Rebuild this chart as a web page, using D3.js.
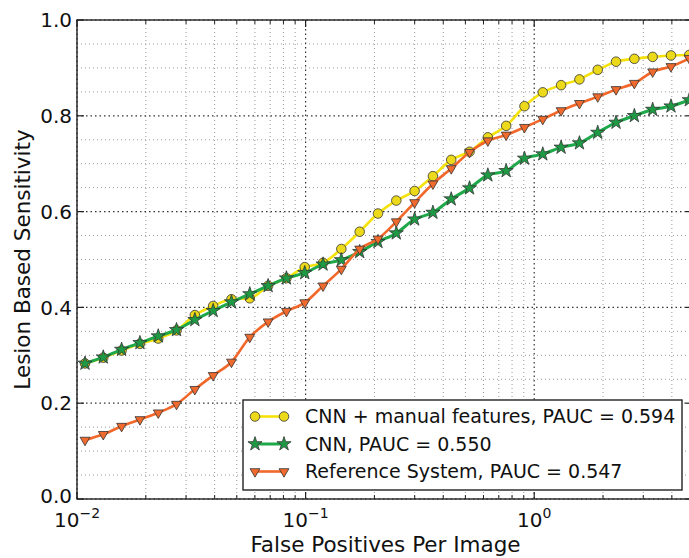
<!DOCTYPE html>
<html>
<head>
<meta charset="utf-8">
<script src="https://cdn.jsdelivr.net/npm/d3@7"></script>
<style>
  html, body { margin: 0; padding: 0; background: #fff; }
  svg { display: block; font-family: "DejaVu Sans", sans-serif; }
</style>
</head>
<body>
<svg id="chart" width="689" height="558"></svg>
<script>
// ---- data ----
const fpi = [0.01084, 0.01303, 0.01567, 0.01885, 0.02267, 0.02725, 0.03277, 0.03941, 0.04739, 0.05699,
             0.06855, 0.08243, 0.09913, 0.1192, 0.1433, 0.1724, 0.2073, 0.2493, 0.2998, 0.3605,
             0.4335, 0.5213, 0.6269, 0.7539, 0.9066, 1.090, 1.311, 1.577, 1.896, 2.280,
             2.742, 3.297, 3.965, 4.768];
const cnnManual = [0.283, 0.295, 0.310, 0.324, 0.335, 0.352, 0.384, 0.403, 0.417, 0.419,
                   0.445, 0.461, 0.484, 0.493, 0.522, 0.558, 0.596, 0.623, 0.643, 0.674,
                   0.708, 0.725, 0.755, 0.779, 0.820, 0.849, 0.864, 0.876, 0.896, 0.913,
                   0.919, 0.923, 0.926, 0.927];
const cnn = [0.283, 0.296, 0.312, 0.326, 0.340, 0.353, 0.374, 0.393, 0.411, 0.428,
             0.445, 0.461, 0.472, 0.490, 0.499, 0.516, 0.537, 0.555, 0.584, 0.598,
             0.626, 0.649, 0.676, 0.685, 0.711, 0.720, 0.734, 0.743, 0.765, 0.786,
             0.800, 0.813, 0.820, 0.833];
const reference = [0.123, 0.135, 0.152, 0.166, 0.180, 0.198, 0.229, 0.258, 0.286, 0.338,
                   0.370, 0.392, 0.410, 0.445, 0.480, 0.522, 0.543, 0.579, 0.619, 0.658,
                   0.690, 0.724, 0.748, 0.760, 0.776, 0.793, 0.811, 0.826, 0.840, 0.855,
                   0.868, 0.892, 0.903, 0.920];
const seriesNames = ["CNN + manual features, PAUC = 0.594", "CNN, PAUC = 0.550", "Reference System, PAUC = 0.547"];
const xMajorTicks = [0.01, 0.1, 1];
const xTickExponents = ["\u22122", "\u22121", "0"];
const yMajorTicks = [0.0, 0.2, 0.4, 0.6, 0.8, 1.0];
const xLabel = "False Positives Per Image";
const yLabel = "Lesion Based Sensitivity";

// ---- layout ----
const L = 77, R = 694, T = 20, B = 499;
const svg = d3.select("#chart");
const x = d3.scaleLog().domain([0.01, 5]).range([L, R]);
const y = d3.scaleLinear().domain([0, 1]).range([B, T]);

// minor ticks
const xMinor = [];
[0.01, 0.1, 1].forEach(d => { for (let m = 2; m <= 9; m++) { const v = d * m; if (v <= 5) xMinor.push(v); } });
const yMinor = d3.range(0, 1.0001, 0.05).filter(v => Math.abs(v * 5 - Math.round(v * 5)) > 1e-6);

// grid
const grid = svg.append("g");
grid.selectAll(".gxm").data(xMinor).enter().append("line")
  .attr("x1", d => x(d)).attr("x2", d => x(d)).attr("y1", T).attr("y2", B)
  .attr("stroke", "#999").attr("stroke-width", 1).attr("stroke-dasharray", "1,3");
grid.selectAll(".gym").data(yMinor).enter().append("line")
  .attr("x1", L).attr("x2", R).attr("y1", d => y(d)).attr("y2", d => y(d))
  .attr("stroke", "#999").attr("stroke-width", 1).attr("stroke-dasharray", "1,3");
grid.selectAll(".gxM").data(xMajorTicks).enter().append("line")
  .attr("x1", d => x(d)).attr("x2", d => x(d)).attr("y1", T).attr("y2", B)
  .attr("stroke", "#333").attr("stroke-width", 1.2).attr("stroke-dasharray", "1.5,3");
grid.selectAll(".gyM").data(yMajorTicks).enter().append("line")
  .attr("x1", L).attr("x2", R).attr("y1", d => y(d)).attr("y2", d => y(d))
  .attr("stroke", "#333").attr("stroke-width", 1.2).attr("stroke-dasharray", "1.5,3");

// series
const series = [
  { name: seriesNames[0], vals: cnnManual, line: "#f5e20a", fill: "#ecd91a", sym: d3.symbolCircle, size: 72, rot: 0, lw: 2.6 },
  { name: seriesNames[1], vals: cnn, line: "#1fa84a", fill: "#1f9a44", sym: d3.symbolStar, size: 62, rot: 0, lw: 3 },
  { name: seriesNames[2], vals: reference, line: "#f2682a", fill: "#ef6a2c", sym: d3.symbolTriangle, size: 42, rot: 180, lw: 2.6 }
];
const lineGen = d3.line().x(d => x(d[0])).y(d => y(d[1])).curve(d3.curveMonotoneX);
series.forEach(s => {
  const pts = fpi.map((f, i) => [f, s.vals[i]]);
  svg.append("path").datum(pts).attr("d", lineGen)
    .attr("fill", "none").attr("stroke", s.line).attr("stroke-width", s.lw).attr("stroke-linejoin", "round");
  svg.append("g").selectAll("path").data(pts).enter().append("path")
    .attr("d", d3.symbol().type(s.sym).size(s.size))
    .attr("transform", d => `translate(${x(d[0])},${y(d[1])}) rotate(${s.rot})`)
    .attr("fill", s.fill).attr("stroke", "#333").attr("stroke-width", 0.8);
});

// axes frame
const frame = svg.append("g");
frame.append("rect").attr("x", L).attr("y", T).attr("width", R - L).attr("height", B - T)
  .attr("fill", "none").attr("stroke", "#222").attr("stroke-width", 1.4);

// ticks (inward on all sides)
const tk = svg.append("g").attr("stroke", "#222");
xMajorTicks.forEach(v => {
  tk.append("line").attr("x1", x(v)).attr("x2", x(v)).attr("y1", B).attr("y2", B - 7).attr("stroke-width", 1.2);
  tk.append("line").attr("x1", x(v)).attr("x2", x(v)).attr("y1", T).attr("y2", T + 7).attr("stroke-width", 1.2);
});
xMinor.forEach(v => {
  tk.append("line").attr("x1", x(v)).attr("x2", x(v)).attr("y1", B).attr("y2", B - 4).attr("stroke-width", 1);
  tk.append("line").attr("x1", x(v)).attr("x2", x(v)).attr("y1", T).attr("y2", T + 4).attr("stroke-width", 1);
});
yMajorTicks.forEach(v => {
  tk.append("line").attr("x1", L).attr("x2", L + 7).attr("y1", y(v)).attr("y2", y(v)).attr("stroke-width", 1.2);
  tk.append("line").attr("x1", R).attr("x2", R - 8).attr("y1", y(v)).attr("y2", y(v)).attr("stroke-width", 1.2);
});

// tick labels
const yl = svg.append("g").attr("font-size", 20).attr("fill", "#111");
yMajorTicks.forEach(v => {
  yl.append("text").attr("x", L - 5).attr("y", y(v) - (v === 0 ? 3 : 0)).attr("dy", "0.36em")
    .attr("text-anchor", "end").text(d3.format(".1f")(v));
});
const xl = svg.append("g").attr("fill", "#111");
xMajorTicks.forEach((v, i) => {
  const t = xl.append("text").attr("x", x(v)).attr("y", 527).attr("text-anchor", "middle").attr("font-size", 20);
  t.append("tspan").text("10");
  t.append("tspan").attr("font-size", 14).attr("dy", -9).text(xTickExponents[i]);
});

// axis labels
svg.append("text").attr("x", (L + R) / 2).attr("y", 552).attr("text-anchor", "middle")
  .attr("font-size", 21.5).attr("fill", "#111").text(xLabel);
svg.append("text").attr("transform", `translate(30,${(T + B) / 2}) rotate(-90)`)
  .attr("text-anchor", "middle").attr("font-size", 21.5).attr("fill", "#111").text(yLabel);

// legend
const lg = svg.append("g");
lg.append("rect").attr("x", 243).attr("y", 400).attr("width", 439).attr("height", 90)
  .attr("fill", "#fff").attr("stroke", "#222").attr("stroke-width", 1.4);
series.forEach((s, i) => {
  const cy = 416.5 + i * 27.5;
  lg.append("line").attr("x1", 255).attr("x2", 284).attr("y1", cy).attr("y2", cy)
    .attr("stroke", s.line).attr("stroke-width", s.lw);
  [255, 284].forEach(px => {
    lg.append("path").attr("d", d3.symbol().type(s.sym).size(s.size))
      .attr("transform", `translate(${px},${cy}) rotate(${s.rot})`)
      .attr("fill", s.fill).attr("stroke", "#333").attr("stroke-width", 0.8);
  });
  lg.append("text").attr("x", 305).attr("y", cy).attr("dy", "0.36em")
    .attr("font-size", 19).attr("fill", "#111").text(s.name);
});
</script>
</body>
</html>
